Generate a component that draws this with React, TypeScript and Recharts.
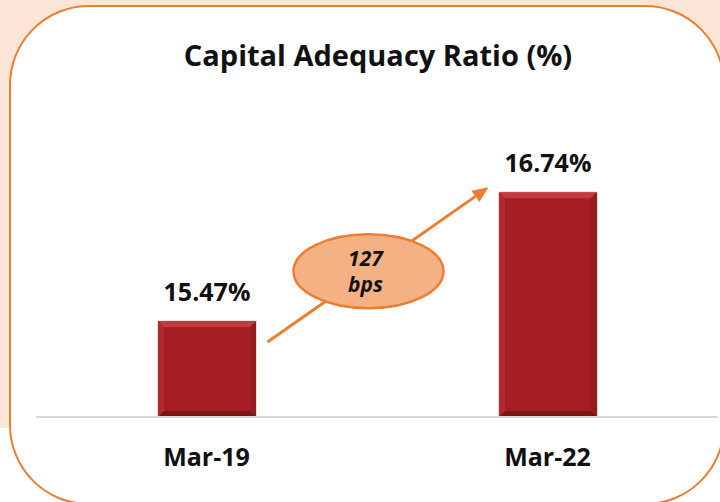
import { BarChart, Bar, XAxis, YAxis, ReferenceLine } from 'recharts';

// chart values
const periods = ['Mar-19', 'Mar-22'];
const carValues = [15.47, 16.74];
const changeText = ['127', 'bps'];
const yDomain: [number, number] = [14.525, 17.5];
// arrow annotation anchored at category centres (value units)
const arrowFrom = 14.842;
const arrowTo = 17.196;

const chartData = periods.map((p, i) => ({ period: p, value: carValues[i] }));

const FONT = '"Open Sans", sans-serif';
const ORANGE = '#ed7d31';

function BevelBar(props: any) {
  const { x, y, width, height } = props;
  if (height <= 0) return null;
  const b = 6;
  const r = x + width;
  const btm = y + height;
  return (
    <g>
      <rect x={x} y={y} width={width} height={height} fill="#a61e24" stroke="#d7b3b3" strokeWidth={1} />
      <polygon points={`${x},${y} ${r},${y} ${r - b},${y + b} ${x + b},${y + b}`} fill="#c6393f" />
      <polygon points={`${x},${y} ${x + b},${y + b} ${x + b},${btm - b} ${x},${btm}`} fill="#b02a30" />
      <polygon points={`${r},${y} ${r},${btm} ${r - b},${btm - b} ${r - b},${y + b}`} fill="#941b20" />
      <polygon points={`${x},${btm} ${r},${btm} ${r - b},${btm - b} ${x + b},${btm - b}`} fill="#7c1418" />
    </g>
  );
}

function ValueLabel(props: any) {
  const { x, y, width, value } = props;
  return (
    <text x={x + width / 2} y={y - 20} textAnchor="middle" fontFamily={FONT} fontWeight={700} fontSize={25} fill="#111">
      {`${Number(value).toFixed(2)}%`}
    </text>
  );
}

function PeriodTick(props: any) {
  const { x, y, payload } = props;
  return (
    <text x={x} y={y + 49} textAnchor="middle" fontFamily={FONT} fontWeight={700} fontSize={25} fill="#111">
      {payload.value}
    </text>
  );
}

function ChangeArrow(props: any) {
  const { x1, y1, x2, y2 } = props;
  const dx = x2 - x1;
  const dy = y2 - y1;
  const sx = x1 + dx * 0.179;
  const sy = y1 + dy * 0.179;
  const ex = x1 + dx * 0.827;
  const ey = y1 + dy * 0.827;
  const cx = x1 + dx * 0.475;
  const cy = y1 + dy * 0.475;
  const ang = Math.atan2(ey - sy, ex - sx);
  const hl = 16;
  const hw = 7;
  const bx = ex - hl * Math.cos(ang);
  const by = ey - hl * Math.sin(ang);
  const px = -Math.sin(ang) * hw;
  const py = Math.cos(ang) * hw;
  return (
    <g>
      <line x1={sx} y1={sy} x2={bx} y2={by} stroke={ORANGE} strokeWidth={3} />
      <polygon points={`${ex},${ey} ${bx + px},${by + py} ${bx - px},${by - py}`} fill={ORANGE} />
      <ellipse cx={cx} cy={cy} rx={75} ry={37} fill="#f4b183" stroke={ORANGE} strokeWidth={2.5} />
      <text x={cx - 3} y={cy - 5} textAnchor="middle" fontFamily={FONT} fontWeight={700} fontStyle="italic" fontSize={21} fill="#111">
        {changeText[0]}
      </text>
      <text x={cx - 3} y={cy + 21} textAnchor="middle" fontFamily={FONT} fontWeight={700} fontStyle="italic" fontSize={21} fill="#111">
        {changeText[1]}
      </text>
    </g>
  );
}

export default function App() {
  return (
    <div style={{ position: 'absolute', left: 0, top: 0, width: 720, height: 502, overflow: 'hidden', background: '#fff' }}>
      <div style={{ position: 'absolute', left: 0, top: 0, width: 720, height: 428, background: '#fbe5d6' }} />
      <div
        style={{
          position: 'absolute',
          left: 9,
          top: 5,
          width: 716,
          height: 500,
          boxSizing: 'border-box',
          border: `2.5px solid ${ORANGE}`,
          borderRadius: 80,
          background: '#fff',
        }}
      />
      <div
        style={{
          position: 'absolute',
          left: 0,
          top: 35,
          width: 756,
          textAlign: 'center',
          fontFamily: FONT,
          fontWeight: 700,
          fontSize: 29,
          color: '#111',
          lineHeight: '40px',
        }}
      >
        Capital Adequacy Ratio (%)
      </div>
      <div style={{ position: 'absolute', left: 0, top: 0 }}>
        <BarChart width={720} height={502} data={chartData} margin={{ top: 115, right: 2, left: 36, bottom: 40 }}>
          <XAxis
            dataKey="period"
            height={45}
            tickLine={false}
            tickSize={0}
            tickMargin={0}
            axisLine={{ stroke: '#d9d9d9', strokeWidth: 2 }}
            tick={<PeriodTick />}
          />
          <YAxis hide domain={yDomain} allowDataOverflow />
          <Bar dataKey="value" barSize={98} shape={<BevelBar />} label={<ValueLabel />} isAnimationActive={false} />
          <ReferenceLine
            segment={[
              { x: periods[0], y: arrowFrom },
              { x: periods[1], y: arrowTo },
            ]}
            shape={<ChangeArrow />}
            ifOverflow="visible"
          />
        </BarChart>
      </div>
    </div>
  );
}
